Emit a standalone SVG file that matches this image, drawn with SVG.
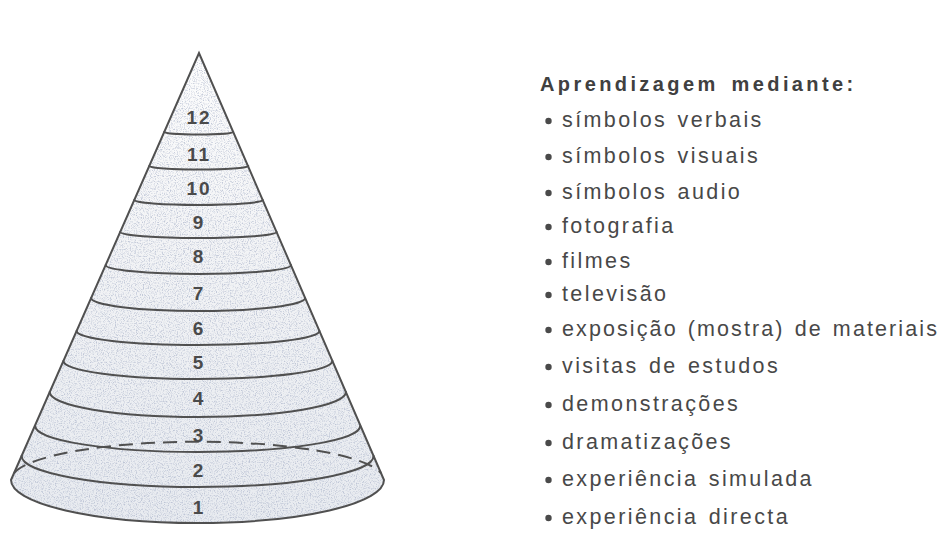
<svg xmlns="http://www.w3.org/2000/svg" width="944" height="549" viewBox="0 0 944 549">
<style>
.edge{fill:none;stroke:#505050;stroke-width:2;stroke-linecap:round}
.dash{fill:none;stroke:#505050;stroke-width:2;stroke-dasharray:14 8}
.num{font-family:"Liberation Sans",Arial,sans-serif;font-weight:bold;font-size:19px;fill:#4a4a4a;text-anchor:middle;letter-spacing:2px}
.item{font-family:"Liberation Sans",Arial,sans-serif;font-size:21.5px;fill:#484848;letter-spacing:2.4px;word-spacing:2px}
.head{font-family:"Liberation Sans",Arial,sans-serif;font-weight:bold;font-size:20px;fill:#404040;letter-spacing:3.4px;word-spacing:4px}
.dot{fill:#4a4a4a}
</style>
<defs>
<linearGradient id="g" x1="0" y1="0" x2="0" y2="1">
<stop offset="0" stop-color="#fdfdfd"/>
<stop offset="0.4" stop-color="#f3f4f6"/>
<stop offset="1" stop-color="#e8ebf0"/>
</linearGradient>
<clipPath id="coneClip"><path d="M11,480 L199,53 L384,480 A186.5,43 0 0 1 11,480 Z"/></clipPath>
<filter id="speck" x="0" y="0" width="100%" height="100%">
<feTurbulence type="fractalNoise" baseFrequency="0.85" numOctaves="2" seed="4"/>
<feColorMatrix type="matrix" values="0 0 0 0 0.42  0 0 0 0 0.47  0 0 0 0 0.6  0 0 0 3.2 -1.5"/>
</filter>
</defs>
<rect width="944" height="549" fill="#ffffff"/>
<g id="cone">
<path d="M11,480 L199,53 L384,480 A186.5,43 0 0 1 11,480 Z" fill="url(#g)"/>
<g clip-path="url(#coneClip)"><rect x="0" y="50" width="400" height="480" filter="url(#speck)" opacity="0.7"/></g>
</g>
<g id="connectors">
<path class="dash" d="M14,473 A186.5,38 0 0 1 381,473"/>
<path class="edge" d="M164.2,132 A34.5,2.5 0 0 0 233.2,132"/>
<path class="edge" d="M149.3,166 A49.5,3.5 0 0 0 248.3,166"/>
<path class="edge" d="M134.3,200 A64.2,5 0 0 0 262.7,200"/>
<path class="edge" d="M120.2,232 A78.2,6 0 0 0 276.6,232"/>
<path class="edge" d="M105.7,265 A92.6,9 0 0 0 290.9,265"/>
<path class="edge" d="M91.1,298 A107,13 0 0 0 305.1,298"/>
<path class="edge" d="M76.6,331 A121.4,14 0 0 0 319.4,331"/>
<path class="edge" d="M63.4,361 A134.5,18 0 0 0 332.4,361"/>
<path class="edge" d="M49.7,392 A148.1,25 0 0 0 345.9,392"/>
<path class="edge" d="M35.2,426 A162.5,26 0 0 0 360.2,426"/>
<path class="edge" d="M21.6,456 A176,31 0 0 0 373.6,456"/>
<path class="edge" d="M11,480 L199,53 L384,480 A186.5,43 0 0 1 11,480 Z"/>
</g>
<g id="levels">
<text class="num" x="199" y="124">12</text>
<text class="num" x="199" y="161">11</text>
<text class="num" x="199" y="195">10</text>
<text class="num" x="199" y="229">9</text>
<text class="num" x="199" y="263">8</text>
<text class="num" x="199" y="300">7</text>
<text class="num" x="199" y="335">6</text>
<text class="num" x="199" y="369">5</text>
<text class="num" x="199" y="405">4</text>
<text class="num" x="199" y="442">3</text>
<text class="num" x="199" y="477">2</text>
<text class="num" x="199" y="514">1</text>
</g>
<g id="legend">
<text class="head" x="540" y="91">Aprendizagem mediante:</text>
<g id="items">
<circle class="dot" cx="548.5" cy="121" r="3.2"/><text class="item" x="562" y="127">símbolos verbais</text>
<circle class="dot" cx="548.5" cy="157" r="3.2"/><text class="item" x="562" y="163">símbolos visuais</text>
<circle class="dot" cx="548.5" cy="193" r="3.2"/><text class="item" x="562" y="199">símbolos audio</text>
<circle class="dot" cx="548.5" cy="227" r="3.2"/><text class="item" x="562" y="233">fotografia</text>
<circle class="dot" cx="548.5" cy="262" r="3.2"/><text class="item" x="562" y="268">filmes</text>
<circle class="dot" cx="548.5" cy="295" r="3.2"/><text class="item" x="562" y="301">televisão</text>
<circle class="dot" cx="548.5" cy="330" r="3.2"/><text class="item" x="562" y="336" style="letter-spacing:2.1px">exposição (mostra) de materiais</text>
<circle class="dot" cx="548.5" cy="367" r="3.2"/><text class="item" x="562" y="373">visitas de estudos</text>
<circle class="dot" cx="548.5" cy="405" r="3.2"/><text class="item" x="562" y="411">demonstrações</text>
<circle class="dot" cx="548.5" cy="443" r="3.2"/><text class="item" x="562" y="449">dramatizações</text>
<circle class="dot" cx="548.5" cy="480" r="3.2"/><text class="item" x="562" y="486">experiência simulada</text>
<circle class="dot" cx="548.5" cy="518" r="3.2"/><text class="item" x="562" y="524">experiência directa</text>
</g>
</g>
</svg>
